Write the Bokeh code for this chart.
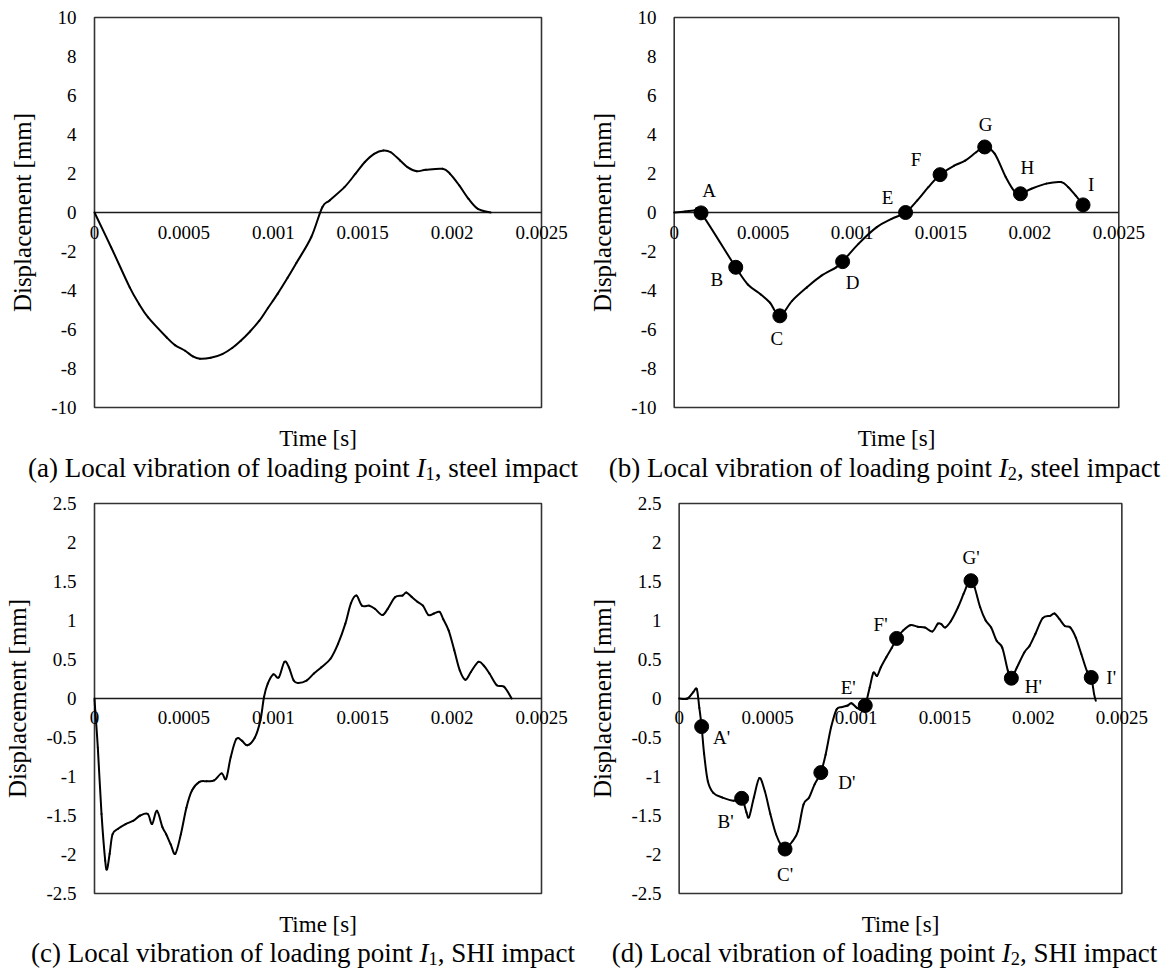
from bokeh.plotting import figure
from bokeh.layouts import column, row
from bokeh.models import Range1d, LinearAxis, FixedTicker, Div, ColumnDataSource
from bokeh.core.properties import value
from bokeh.embed import file_html
from bokeh.resources import INLINE

# ---------------- data ----------------
x_ticks = [0, 0.0005, 0.001, 0.0015, 0.002, 0.0025]
x_tick_labels = ["0", "0.0005", "0.001", "0.0015", "0.002", "0.0025"]
x_min, x_max = 0, 0.0025

y_ticks_steel = [-10, -8, -6, -4, -2, 0, 2, 4, 6, 8, 10]
y_tick_labels_steel = ["-10", "-8", "-6", "-4", "-2", "0", "2", "4", "6", "8", "10"]
y_ticks_shi = [-2.5, -2, -1.5, -1, -0.5, 0, 0.5, 1, 1.5, 2, 2.5]
y_tick_labels_shi = ["-2.5", "-2", "-1.5", "-1", "-0.5", "0", "0.5", "1", "1.5", "2", "2.5"]

# (a) steel impact, loading point I1
t_a = [0, 0.000093, 0.000197, 0.00025, 0.000300, 0.000404, 0.00045, 0.000507, 0.00055, 0.000590,
       0.00065, 0.000715, 0.00077, 0.000818, 0.00087, 0.000922, 0.00097, 0.001025, 0.00108, 0.001129,
       0.001212, 0.001274, 0.001315, 0.001398, 0.001460, 0.001512, 0.001564, 0.001616, 0.001657,
       0.001709, 0.001750, 0.001802, 0.001854, 0.001947, 0.001988, 0.002040, 0.002092, 0.002144, 0.002216]
v_a = [0, -1.78, -3.84, -4.70, -5.38, -6.41, -6.80, -7.09, -7.38, -7.50,
       -7.45, -7.26, -6.95, -6.58, -6.10, -5.55, -4.90, -4.16, -3.35, -2.59,
       -1.27, 0.27, 0.62, 1.30, 1.99, 2.59, 3.01, 3.18, 3.09,
       2.67, 2.33, 2.12, 2.19, 2.24, 1.99, 1.39, 0.70, 0.19, 0.0]

# (b) steel impact, loading point I2
t_b = [0, 0.000062, 0.000114, 0.000151, 0.000346, 0.000414, 0.000487, 0.000539, 0.000594, 0.000663,
       0.000746, 0.000828, 0.000911, 0.000947, 0.001036, 0.001139, 0.001222, 0.001301, 0.001367,
       0.001429, 0.001495, 0.001574, 0.001636, 0.001698, 0.001746, 0.001802, 0.001864, 0.001916,
       0.001947, 0.002009, 0.002092, 0.002175, 0.002216, 0.002258, 0.002299]
v_b = [0, 0.05, 0.10, -0.02, -2.81, -3.69, -4.20, -4.63, -5.30, -4.53,
       -3.84, -3.24, -2.81, -2.52, -1.61, -0.75, -0.33, 0.0, 0.62,
       1.30, 1.94, 2.40, 2.66, 3.09, 3.36, 3.02, 1.82, 1.05,
       0.96, 1.22, 1.48, 1.56, 1.30, 0.86, 0.39]
mark_b_t = [0.000151, 0.000346, 0.000594, 0.000947, 0.001301, 0.001495, 0.001746, 0.001947, 0.002299]
mark_b_v = [-0.02, -2.81, -5.30, -2.52, 0.0, 1.94, 3.36, 0.96, 0.39]
mark_b_names = ["A", "B", "C", "D", "E", "F", "G", "H", "I"]

# (c) SHI impact, loading point I1
t_c = [0, 0.0000041, 0.0000186, 0.0000393, 0.0000599, 0.0000702, 0.0000847, 0.000101, 0.000132,
       0.000174, 0.000215, 0.000256, 0.000298, 0.000322, 0.000349, 0.000380, 0.000401, 0.000426,
       0.000452, 0.000483, 0.000514, 0.000545, 0.000587, 0.000628, 0.000669, 0.000711, 0.000736,
       0.000762, 0.000793, 0.000824, 0.000855, 0.000897, 0.000928, 0.000948, 0.000969, 0.001000,
       0.001031, 0.001062, 0.001087, 0.001114, 0.001140, 0.001186, 0.001227, 0.001269, 0.001320,
       0.001362, 0.001403, 0.001434, 0.001465, 0.001496, 0.001537, 0.001568, 0.001610, 0.001640,
       0.001682, 0.001723, 0.001744, 0.001775, 0.001806, 0.001837, 0.001868, 0.001899, 0.001930,
       0.001950, 0.001981, 0.002012, 0.002043, 0.002074, 0.002105, 0.002147, 0.002178, 0.002209,
       0.002250, 0.002291, 0.002333]
v_c = [0, -0.15, -0.63, -1.48, -2.08, -2.19, -1.99, -1.74, -1.67,
       -1.61, -1.57, -1.50, -1.48, -1.61, -1.44, -1.65, -1.74, -1.87,
       -1.99, -1.74, -1.40, -1.18, -1.07, -1.06, -1.05, -0.96, -1.03,
       -0.75, -0.52, -0.54, -0.60, -0.50, -0.28, 0.02, 0.19, 0.31,
       0.27, 0.47, 0.40, 0.23, 0.20, 0.23, 0.32, 0.40, 0.51,
       0.70, 0.96, 1.22, 1.32, 1.19, 1.19, 1.15, 1.07, 1.15,
       1.30, 1.32, 1.36, 1.30, 1.24, 1.19, 1.07, 1.09, 1.11,
       1.02, 0.87, 0.62, 0.36, 0.24, 0.34, 0.47, 0.42, 0.32,
       0.17, 0.15, 0.0]

# (d) SHI impact, loading point I2
t_d = [0, 0.0000478, 0.0000790, 0.0000997, 0.000114, 0.000127, 0.000141, 0.000162, 0.000193,
       0.000245, 0.000308, 0.000353, 0.000380, 0.000395, 0.000422, 0.000453, 0.000484, 0.000515,
       0.000547, 0.000578, 0.000598, 0.000640, 0.000671, 0.000702, 0.000734, 0.000765, 0.000800,
       0.000827, 0.000858, 0.000889, 0.000920, 0.000952, 0.000973, 0.001004, 0.001031, 0.001051,
       0.001076, 0.001097, 0.001118, 0.001139, 0.001170, 0.001201, 0.001228, 0.001264, 0.001305,
       0.001347, 0.001388, 0.001430, 0.001461, 0.001482, 0.001502, 0.001534, 0.001575, 0.001606,
       0.001637, 0.001648, 0.001669, 0.001700, 0.001731, 0.001762, 0.001793, 0.001825, 0.001856,
       0.001876, 0.001908, 0.001949, 0.001980, 0.002012, 0.002053, 0.002095, 0.002120, 0.002147,
       0.002178, 0.002209, 0.002240, 0.002271, 0.002303, 0.002327, 0.002343, 0.002353]
v_d = [0, 0.0, 0.08, 0.12, -0.12, -0.36, -0.71, -1.06, -1.21,
       -1.27, -1.31, -1.28, -1.46, -1.52, -1.27, -1.02, -1.19, -1.48,
       -1.74, -1.89, -1.93, -1.83, -1.70, -1.36, -1.27, -1.10, -0.95,
       -0.72, -0.37, -0.14, -0.11, -0.09, -0.06, -0.12, -0.15, -0.09,
       0.14, 0.33, 0.29, 0.40, 0.53, 0.65, 0.77, 0.87, 0.94,
       0.92, 0.91, 0.86, 0.96, 0.95, 0.91, 0.99, 1.17, 1.34,
       1.51, 1.51, 1.42, 1.17, 1.00, 0.91, 0.74, 0.65, 0.36,
       0.26, 0.40, 0.59, 0.68, 0.83, 1.03, 1.06, 1.09, 1.02,
       0.93, 0.91, 0.78, 0.57, 0.35, 0.27, 0.06, -0.03]
mark_d_t = [0.000127, 0.000353, 0.000598, 0.000800, 0.001051, 0.001228, 0.001648, 0.001876, 0.002327]
mark_d_v = [-0.36, -1.28, -1.93, -0.95, -0.09, 0.77, 1.51, 0.26, 0.27]
mark_d_names = ["A'", "B'", "C'", "D'", "E'", "F'", "G'", "H'", "I'"]

SUB = '<sub style="font-size:0.68em;line-height:0;vertical-align:-0.18em">{}</sub>'
captions = [
    "(a) Local vibration of loading point <i>I</i>" + SUB.format("1") + ", steel impact",
    "(b) Local vibration of loading point <i>I</i>" + SUB.format("2") + ", steel impact",
    "(c) Local vibration of loading point <i>I</i>" + SUB.format("1") + ", SHI impact",
    "(d) Local vibration of loading point <i>I</i>" + SUB.format("2") + ", SHI impact",
]

# ---------------- styling ----------------
FONT = "Liberation Serif"
TICK_FS = "19px"
AXLAB_FS = "23px"
CAP_FS = "27px"
PADX, PADY = 30, 3   # frame extends a little beyond the plot box so end tick labels are not clipped

# label offsets (screen px) for the marked points
off_b_x = [8, -19, -3, 10, -18, -24, 1, 7, 8]
off_b_y = [-22, 12, 23, 21, -15, -15, -22, -26, -20]
off_d_x = [20, -16, 0, 26, -17, -16, 0, 22, 20]
off_d_y = [11, 23, 25, 10, -18, -14, -23, 8, 0]


def smooth_curve(p, t, v):
    """Draw the series as a smoothed line (Catmull-Rom style Bezier segments through every point)."""
    n = len(t)
    seg = dict(x0=[], y0=[], x1=[], y1=[], cx0=[], cy0=[], cx1=[], cy1=[])
    for i in range(n - 1):
        a = max(i - 1, 0)
        d = min(i + 2, n - 1)
        seg["x0"].append(t[i]); seg["y0"].append(v[i])
        seg["x1"].append(t[i + 1]); seg["y1"].append(v[i + 1])
        seg["cx0"].append(t[i] + (t[i + 1] - t[a]) / 6.0)
        seg["cy0"].append(v[i] + (v[i + 1] - v[a]) / 6.0)
        seg["cx1"].append(t[i + 1] - (t[d] - t[i]) / 6.0)
        seg["cy1"].append(v[i + 1] - (v[d] - v[i]) / 6.0)
    p.bezier(x0="x0", y0="y0", x1="x1", y1="y1", cx0="cx0", cy0="cy0", cx1="cx1", cy1="cy1",
             source=ColumnDataSource(seg), line_color="black", line_width=2.0, line_cap="round")


def make_panel(t, v, ylo, yhi, yticks, ylabels, width, height, box, xlab_standoff,
               mt=None, mv=None, names=None, ox=None, oy=None):
    # box = (left, right, top, bottom) of the plot box, in figure pixels
    bx0, bx1, by0, by1 = box
    px = PADX * (x_max - x_min) / (bx1 - bx0)
    py = PADY * (yhi - ylo) / (by1 - by0)
    p = figure(width=width, height=height,
               x_range=Range1d(x_min - px, x_max + px), y_range=Range1d(ylo - py, yhi + py),
               x_axis_location=None, y_axis_location=None,
               toolbar_location=None, output_backend="svg",
               min_border_left=bx0 - PADX, min_border_right=width - bx1 - PADX,
               min_border_top=by0 - PADY, min_border_bottom=height - by1 - PADY)
    p.xgrid.grid_line_color = None
    p.ygrid.grid_line_color = None
    p.outline_line_color = None
    p.background_fill_color = "white"
    p.border_fill_color = "white"

    # plot box and zero line
    p.quad(left=x_min, right=x_max, bottom=ylo, top=yhi, fill_color=None,
           line_color="#333333", line_width=1.6)
    p.line([x_min, x_max], [0, 0], line_color="#1a1a1a", line_width=1.4)

    yax = LinearAxis(ticker=FixedTicker(ticks=yticks),
                     major_label_overrides=dict(zip(yticks, ylabels)))
    yax.axis_line_color = None
    yax.major_tick_line_color = None
    yax.minor_tick_line_color = None
    yax.major_tick_out = 0
    yax.major_tick_in = 0
    yax.major_label_standoff = 18 - PADX
    yax.major_label_text_font = FONT
    yax.major_label_text_font_size = TICK_FS
    yax.major_label_text_color = "black"
    yax.axis_label = "Displacement [mm]"
    yax.axis_label_text_font = FONT
    yax.axis_label_text_font_size = "25px"
    yax.axis_label_text_font_style = "normal"
    yax.axis_label_text_color = "black"
    yax.axis_label_standoff = 12
    p.add_layout(yax, "left")

    # tick labels of the time axis, hanging under the zero line
    xax = LinearAxis(ticker=FixedTicker(ticks=x_ticks), fixed_location=0,
                     major_label_overrides=dict(zip(x_ticks, x_tick_labels)))
    xax.axis_line_color = None
    xax.major_tick_line_color = None
    xax.minor_tick_line_color = None
    xax.major_tick_out = 0
    xax.major_tick_in = 0
    xax.major_label_standoff = xlab_standoff
    xax.major_label_text_font = FONT
    xax.major_label_text_font_size = TICK_FS
    xax.major_label_text_color = "black"
    p.add_layout(xax, "below")

    xlab = LinearAxis(ticker=FixedTicker(ticks=[]))
    xlab.axis_line_color = None
    xlab.major_tick_line_color = None
    xlab.minor_tick_line_color = None
    xlab.major_tick_out = 0
    xlab.major_tick_in = 0
    xlab.major_label_standoff = 0
    xlab.axis_label = "Time [s]"
    xlab.axis_label_text_font = FONT
    xlab.axis_label_text_font_size = AXLAB_FS
    xlab.axis_label_text_font_style = "normal"
    xlab.axis_label_text_color = "black"
    xlab.axis_label_standoff = 15
    p.add_layout(xlab, "below")

    smooth_curve(p, t, v)

    if mt is not None:
        src = ColumnDataSource(dict(t=mt, v=mv, name=names, ox=ox, oy=oy))
        p.scatter("t", "v", source=src, size=14, fill_color="black", line_color="black")
        p.text("t", "v", text="name", source=src, x_offset="ox", y_offset="oy",
               text_align="center", text_baseline="middle",
               text_font=value(FONT), text_font_size=TICK_FS, text_color="black")
    return p


def caption(txt, width, height):
    return Div(text=txt, width=width, height=height, margin=0,
               styles={"font-family": FONT, "font-size": CAP_FS, "text-align": "center",
                       "line-height": "26px", "color": "black", "white-space": "nowrap",
                       "padding-left": "20px", "box-sizing": "border-box"})


W1, W2 = 586, 577
H1, H2 = 455, 452
pa = make_panel(t_a, v_a, -10, 10, y_ticks_steel, y_tick_labels_steel, W1, H1,
                (94, 541, 17, 407), 13)
pb = make_panel(t_b, v_b, -10, 10, y_ticks_steel, y_tick_labels_steel, W2, H1,
                (83, 532, 17, 407), 13,
                mark_b_t, mark_b_v, mark_b_names, off_b_x, off_b_y)
pc = make_panel(t_c, v_c, -2.5, 2.5, y_ticks_shi, y_tick_labels_shi, W1, H2,
                (94, 541, 15, 405), 12)
pd = make_panel(t_d, v_d, -2.5, 2.5, y_ticks_shi, y_tick_labels_shi, W2, H2,
                (87, 535, 15, 405), 12,
                mark_d_t, mark_d_v, mark_d_names, off_d_x, off_d_y)

layout = column(
    row(pa, pb),
    row(caption(captions[0], W1, 33), caption(captions[1], W2, 33)),
    row(pc, pd),
    row(caption(captions[2], W1, 31), caption(captions[3], W2, 31)),
)

open("out.html", "w").write(file_html(layout, INLINE))
